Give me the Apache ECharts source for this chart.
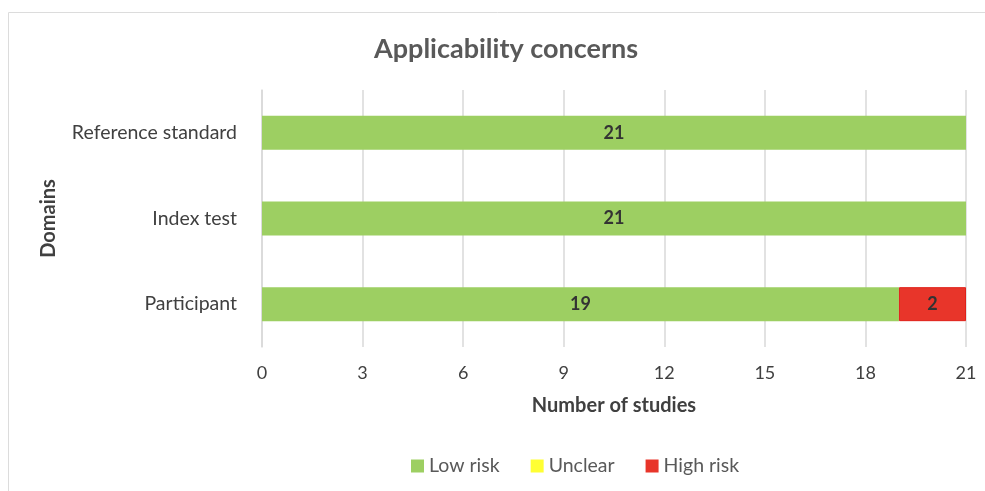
<!DOCTYPE html>
<html>
<head>
<meta charset="utf-8">
<script src="https://cdn.jsdelivr.net/npm/echarts@6/dist/echarts.min.js"></script>
<style>
  html, body { margin: 0; padding: 0; background: #fff; }
  #chart { width: 985px; height: 491px; }
</style>
</head>
<body>
<div id="chart"></div>
<script>
var domains = ['Participant', 'Index test', 'Reference standard'];
var lowRisk = [19, 21, 21];
var unclear = [0, 0, 0];
var highRisk = [2, 0, 0];
var xTicks = [0, 3, 6, 9, 12, 15, 18, 21];

var colors = {
	low: '#9DCF62',
	unclear: '#FFFF33',
	high: '#E8352A'
};

var FONT = 'Lato, "Open Sans", sans-serif';

function barLabel() {
	return {
		show: true,
		position: 'inside',
		color: '#333',
		fontWeight: 'bold',
		fontSize: 18,
		fontFamily: FONT,
		formatter: function(p) { return p.value > 0 ? p.value : ''; }
	};
}

// only outline the segments that are actually drawn
function withBorder(values, border) {
	return values.map(function(v) {
		return v > 0 ? { value: v, itemStyle: { borderColor: border, borderWidth: 1 } } : v;
	});
}

var myChart = echarts.init(document.getElementById('chart'));
var option = {
	animation: false,
	graphic: [{
		type: 'rect',
		shape: { x: 8.5, y: 12.5, width: 1000, height: 500 },
		style: { fill: 'none', stroke: '#dcdcdc', lineWidth: 1 },
		silent: true
	}],
	title: {
		text: 'Applicability concerns',
		left: 369,
		top: 31,
		textStyle: { fontFamily: FONT, fontSize: 27, fontWeight: 'bold', color: '#595959' }
	},
	legend: {
		left: 406,
		top: 451,
		itemWidth: 13,
		itemHeight: 13,
		itemGap: 31,
		icon: 'rect',
		textStyle: { fontFamily: FONT, fontSize: 19.5, color: '#595959' },
		data: ['Low risk', 'Unclear', 'High risk']
	},
	grid: { left: 262, right: 19, top: 90, bottom: 144 },
	xAxis: {
		type: 'value',
		min: xTicks[0],
		max: xTicks[xTicks.length - 1],
		interval: 3,
		name: 'Number of studies',
		nameLocation: 'middle',
		nameGap: 49,
		nameTextStyle: { fontFamily: FONT, fontSize: 20, fontWeight: 'bold', color: '#404040' },
		axisLine: { show: false },
		axisTick: { show: false },
		axisLabel: { fontFamily: FONT, fontSize: 18, color: '#404040', margin: 17 },
		splitLine: { lineStyle: { color: '#d9d9d9', width: 1.5 } }
	},
	yAxis: {
		type: 'category',
		data: domains,
		name: 'Domains',
		nameLocation: 'middle',
		nameRotate: 90,
		nameGap: 203,
		nameTextStyle: { fontFamily: FONT, fontSize: 20, fontWeight: 'bold', color: '#404040' },
		axisLine: { lineStyle: { color: '#d9d9d9', width: 1.5 } },
		axisTick: { show: false },
		axisLabel: { fontFamily: FONT, fontSize: 19.5, color: '#404040', margin: 25 }
	},
	series: [
		{
			name: 'Low risk', type: 'bar', stack: 'total', barWidth: 34,
			itemStyle: { color: colors.low },
			label: barLabel(),
			data: lowRisk
		},
		{
			name: 'Unclear', type: 'bar', stack: 'total', barWidth: 34,
			itemStyle: { color: colors.unclear },
			label: barLabel(),
			data: unclear
		},
		{
			name: 'High risk', type: 'bar', stack: 'total', barWidth: 34,
			itemStyle: { color: colors.high },
			label: barLabel(),
			data: withBorder(highRisk, '#E0201A')
		}
	]
};
myChart.setOption(option);
</script>
</body>
</html>
